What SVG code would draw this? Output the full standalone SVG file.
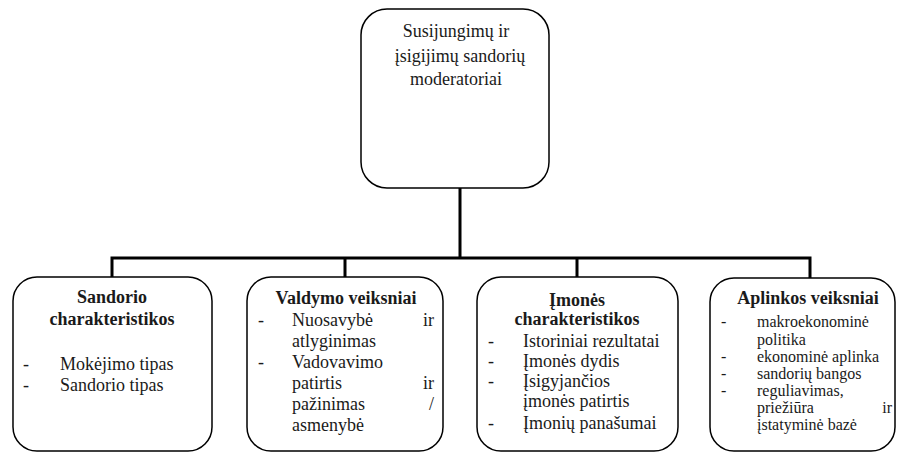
<svg xmlns="http://www.w3.org/2000/svg" width="897" height="453" viewBox="0 0 897 453" font-family="'Liberation Serif', 'Times New Roman', 'DejaVu Serif', serif">
<style>
.box{fill:#fff;stroke:#000;stroke-width:1.5}
.conn{fill:none;stroke:#000;stroke-width:3}
text{fill:#1a1a1a}
.t{font-size:18px;font-weight:bold;text-anchor:middle}
.b{font-size:18px}
.s{font-size:16px}
.c{font-size:18px;text-anchor:middle}
.e{text-anchor:end}
</style>
<rect width="897" height="453" fill="#fff"/>
<g id="connectors">
<path class="conn" d="M460,188 V258 M112,282 V258 H810 V282 M345,258 V282 M577,258 V282"/>
</g>
<g id="root">
<rect class="box" x="361" y="9" width="188" height="179" rx="26"/>
<text class="c" x="456" y="37">Susijungimų ir</text>
<text class="c" x="460" y="62">įsigijimų sandorių</text>
<text class="c" x="456" y="85">moderatoriai</text>
</g>
<g id="sandorio">
<rect class="box" x="13" y="277" width="199" height="174" rx="24"/>
<text class="t" x="112" y="303">Sandorio</text>
<text class="t" x="112" y="325">charakteristikos</text>
<text class="b" x="23" y="370">-</text>
<text class="b" x="60" y="370">Mokėjimo tipas</text>
<text class="b" x="23" y="391">-</text>
<text class="b" x="60" y="391">Sandorio tipas</text>
</g>
<g id="valdymo">
<rect class="box" x="247" y="277" width="196" height="174" rx="24"/>
<text class="t" x="346" y="304">Valdymo veiksniai</text>
<text class="b" x="258" y="326">-</text>
<text class="b" x="292" y="326">Nuosavybė</text>
<text class="b e" x="434" y="326">ir</text>
<text class="b" x="292" y="347">atlyginimas</text>
<text class="b" x="258" y="368">-</text>
<text class="b" x="292" y="368">Vadovavimo</text>
<text class="b" x="292" y="389">patirtis</text>
<text class="b e" x="434" y="389">ir</text>
<text class="b" x="292" y="410">pažinimas</text>
<text class="b e" x="434" y="410">/</text>
<text class="b" x="292" y="431">asmenybė</text>
</g>
<g id="imones">
<rect class="box" x="477" y="277" width="201" height="174" rx="24"/>
<text class="t" x="577" y="306">Įmonės</text>
<text class="t" x="577" y="325">charakteristikos</text>
<text class="b" x="488" y="347">-</text>
<text class="b" x="523" y="347">Istoriniai rezultatai</text>
<text class="b" x="488" y="367">-</text>
<text class="b" x="523" y="367">Įmonės dydis</text>
<text class="b" x="488" y="387">-</text>
<text class="b" x="523" y="387">Įsigyjančios</text>
<text class="b" x="523" y="407">įmonės patirtis</text>
<text class="b" x="488" y="429">-</text>
<text class="b" x="523" y="429">Įmonių panašumai</text>
</g>
<g id="aplinkos">
<rect class="box" x="710" y="278" width="185" height="173" rx="24"/>
<text class="t" x="808" y="304">Aplinkos veiksniai</text>
<text class="s" x="721" y="327">-</text>
<text class="s" x="757" y="327">makroekonominė</text>
<text class="s" x="757" y="345">politika</text>
<text class="s" x="721" y="362">-</text>
<text class="s" x="757" y="362">ekonominė aplinka</text>
<text class="s" x="721" y="379">-</text>
<text class="s" x="757" y="379">sandorių bangos</text>
<text class="s" x="721" y="396">-</text>
<text class="s" x="757" y="396">reguliavimas,</text>
<text class="s" x="757" y="413">priežiūra</text>
<text class="s e" x="892" y="413">ir</text>
<text class="s" x="757" y="430">įstatyminė bazė</text>
</g>
</svg>
